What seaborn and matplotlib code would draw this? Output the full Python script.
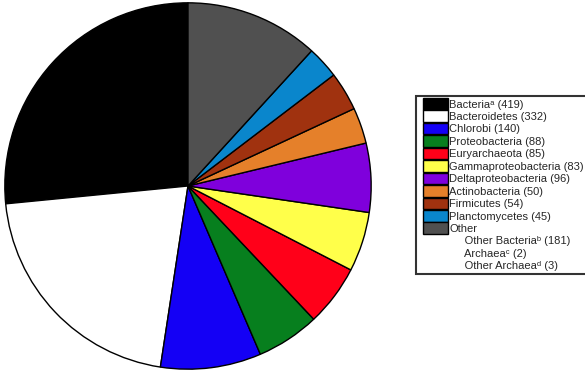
import matplotlib
matplotlib.use("Agg")
import matplotlib.pyplot as plt
import seaborn as sns
from matplotlib.patches import Patch, Rectangle
from matplotlib.legend_handler import HandlerPatch

sns.set_theme(style="white")
plt.rcParams['font.family'] = ['Liberation Sans', 'DejaVu Sans']

categories = ["Bacteria", "Bacteroidetes", "Chlorobi", "Proteobacteria", "Euryarchaeota",
              "Gammaproteobacteria", "Deltaproteobacteria", "Actinobacteria", "Firmicutes",
              "Planctomycetes", "Other"]
values = [419, 332, 140, 88, 85, 83, 96, 50, 54, 45, 186]
colors = ["#000000", "#ffffff", "#1400f5", "#077f1e", "#ff0019", "#ffff4a",
          "#7f00dc", "#e5802a", "#a0320f", "#0a86cc", "#505050"]
legend_labels = ["Bacteria\u1d43 (419)", "Bacteroidetes (332)", "Chlorobi (140)",
                 "Proteobacteria (88)", "Euryarchaeota (85)", "Gammaproteobacteria (83)",
                 "Deltaproteobacteria (96)", "Actinobacteria (50)", "Firmicutes (54)",
                 "Planctomycetes (45)", "Other"]
other_labels = ["Other Bacteria\u1d47 (181)", "Archaea\u1d9c (2)", "Other Archaea\u1d48 (3)"]

fig = plt.figure(figsize=(5.85, 3.79), dpi=100)
cx, cy, r = 188, 186, 185
ax = fig.add_axes([(cx - r) / 585, (379 - cy - r) / 379, 2 * r / 585, 2 * r / 379])
ax.pie(values, colors=colors, startangle=90, counterclock=True,
       wedgeprops=dict(edgecolor="black", linewidth=1.0), radius=1.0)
ax.set_xlim(-1.01, 1.01)
ax.set_ylim(-1.01, 1.01)
ax.set_aspect("equal")
ax.axis("off")

FS = 8
SPACING = 0.15


def shifted_patch(legend, orig_handle, xdescent, ydescent, width, height, fontsize):
    off = 3.0
    gap = SPACING * fontsize
    return Rectangle((-xdescent + off, -ydescent - gap / 2), width - off, height + gap)


handles = [Patch(facecolor=c, edgecolor="black", linewidth=1.0) for c in colors]
blank = [Patch(facecolor="none", edgecolor="none") for _ in other_labels]
labels = legend_labels + ["     " + s for s in other_labels]
leg = fig.legend(handles + blank, labels, loc="upper left",
                 bbox_to_anchor=(416 / 585, 1 - 96 / 379),
                 fontsize=FS, handlelength=2.6, handleheight=1.0, handletextpad=0.15,
                 labelspacing=SPACING, borderpad=0.25, borderaxespad=0.0,
                 frameon=True, fancybox=False,
                 handler_map={Patch: HandlerPatch(patch_func=shifted_patch)})
leg.get_frame().set_edgecolor("black")
leg.get_frame().set_linewidth(1.5)

fig.savefig("out.png", dpi=100, facecolor="white")
